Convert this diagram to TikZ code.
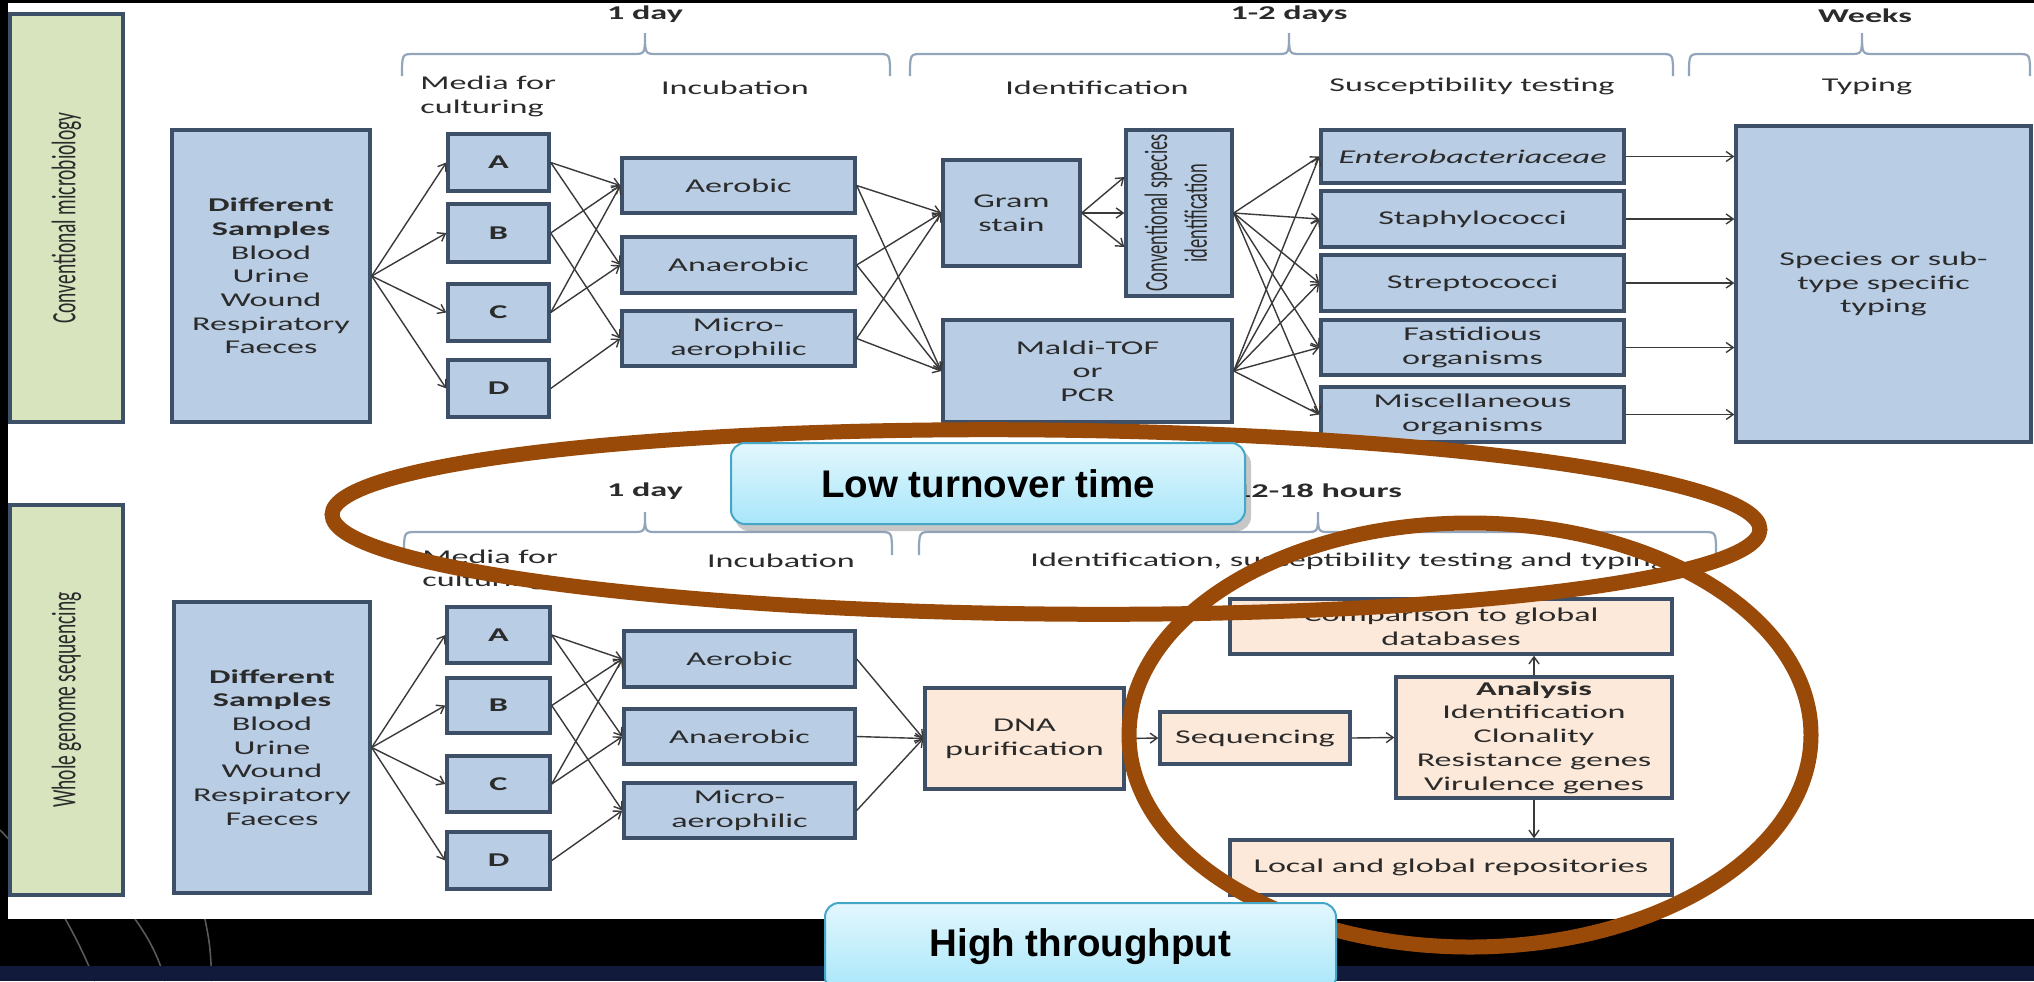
\documentclass[tikz,border=0pt]{standalone}
\usepackage{fontspec}
\usepackage{graphicx}
\usetikzlibrary{arrows.meta,calc}
\newfontfamily\df{Carlito}[FakeStretch=1.75]
\newfontfamily\vf{Carlito}
\newfontfamily\ovf{Liberation Sans}
\newcommand\fsz{\fontsize{9.75}{11.85}\selectfont}
\definecolor{bluef}{HTML}{B9CDE5}
\definecolor{peach}{HTML}{FDE9D9}
\definecolor{olivef}{HTML}{D7E4BD}
\definecolor{bord}{HTML}{3E5068}
\definecolor{arrc}{HTML}{3A3A3A}
\definecolor{bracec}{HTML}{93A5BA}
\definecolor{txt}{HTML}{2B2B2B}
\definecolor{ell}{RGB}{153,74,9}
\definecolor{navyb}{HTML}{121A3C}
\definecolor{ovtop}{HTML}{E3F7FD}
\definecolor{ovbot}{HTML}{A8E6FA}
\definecolor{ovbord}{HTML}{45A7C7}
\newcommand\mybrace[6]{\draw[brc] (#1,#5) .. controls (#1,#4) .. ({#1+12},#4) -- ({#3-12},#4) .. controls (#3,#4) .. (#3,#6) .. controls (#3,#4) .. ({#3+12},#4) -- ({#2-12},#4) .. controls (#2,#4) .. (#2,#5);}
\newcommand\vtext[1]{\rotatebox{90}{\scalebox{1}[1.75]{\vf\fsz #1}}}
\newcommand\mkbox[6]{\node[#1, minimum width={(#4-#2)*0.5pt}, minimum height={(#5-#3)*0.5pt}] (#6) at ({(#2+#4)/2},{(#3+#5)/2})}
\begin{document}
\begin{tikzpicture}[x=0.5pt,y=-0.5pt,
  box/.style={draw=bord, line width=1.7pt, fill=bluef, inner sep=0pt, align=center, text=txt, font=\df\fsz},
  pbox/.style={box, fill=peach},
  gbox/.style={box, fill=olivef},
  arr/.style={draw=arrc, line width=0.7pt, -{Straight Barb[length=3.5pt,width=5pt]}},
  lbl/.style={inner sep=0pt, text=txt, font=\df\fsz, align=center},
  blbl/.style={inner sep=0pt, text=txt, font=\df\fsz\bfseries, align=center},
  brc/.style={draw=bracec, line width=1.1pt},
  ellip/.style={draw=ell, line width=7.5pt},
  ov/.style={draw=ovbord, line width=1pt, rounded corners=7pt, top color=ovtop, bottom color=ovbot, inner sep=0pt, text=black, font=\ovf\bfseries\fontsize{19.25}{22}\selectfont}
]
\useasboundingbox (0,0) rectangle (2034,981);
% background
\fill[black] (0,0) rectangle (2034,981);
\draw[draw=black!65, line width=0.8pt] (0,830) .. controls (40,870) and (75,930) .. (95,981);
\draw[draw=black!65, line width=0.8pt] (135,919) .. controls (150,940) and (160,960) .. (165,981);
\draw[draw=black!65, line width=0.8pt] (205,919) .. controls (210,945) .. (212,981);
\fill[white] (8,3) rectangle (2034,919);
\fill[navyb] (0,966) rectangle (2034,981);

% ================= upper panel =================
\mkbox{gbox}{10}{14}{123}{422}{cm} {\vtext{Conventional microbiology}};
\mkbox{box}{172}{130}{370}{422}{s1} {\textbf{Different}\\\textbf{Samples}\\Blood\\Urine\\Wound\\Respiratory\\Faeces};
\mkbox{box}{448}{134}{549}{191}{a1} {\textbf{A}};
\mkbox{box}{448}{204}{549}{262}{b1} {\textbf{B}};
\mkbox{box}{448}{284}{549}{341}{c1} {\textbf{C}};
\mkbox{box}{448}{360}{549}{417}{d1} {\textbf{D}};
\mkbox{box}{622}{158}{855}{213}{aer1} {Aerobic};
\mkbox{box}{622}{237}{855}{293}{ana1} {Anaerobic};
\mkbox{box}{622}{311}{855}{366}{mic1} {Micro-\\aerophilic};
\mkbox{box}{943}{160}{1080}{266}{gram} {Gram\\stain};
\mkbox{box}{1126}{130}{1232}{296}{cid} {\rotatebox{90}{\scalebox{1}[1.75]{\vf\fontsize{9.25}{11.4}\selectfont\begin{tabular}{@{}c@{}}Conventional species\\identification\end{tabular}}}};
\mkbox{box}{943}{320}{1232}{422}{mal} {Maldi-TOF\\or\\PCR};
\mkbox{box}{1321}{130}{1624}{183}{ent} {\textit{Enterobacteriaceae}};
\mkbox{box}{1321}{191}{1624}{247}{sta} {Staphylococci};
\mkbox{box}{1321}{255}{1624}{311}{str} {Streptococci};
\mkbox{box}{1321}{320}{1624}{375}{fas} {Fastidious\\organisms};
\mkbox{box}{1321}{387}{1624}{442}{mis} {Miscellaneous\\organisms};
\mkbox{box}{1736}{126}{2031}{442}{typ} {Species or sub-\\type specific\\typing};

\node[lbl, anchor=west, align=left] (hmed1) at (420,96.5) {Media for\\culturing};
\node[lbl] (hinc1) at (735,88) {Incubation};
\node[lbl] (hid1) at (1097,88) {Identification};
\node[lbl] (hsus1) at (1472,86) {Susceptibility testing};
\node[lbl] (htyp1) at (1867,86) {Typing};
\node[blbl] (t1) at (645,14) {1 day};
\node[blbl] (t2) at (1289,14) {1-2 days};
\node[blbl] (t3) at (1865,16) {Weeks};
\mybrace{402}{890}{645}{54}{76}{33}
\mybrace{910}{1673}{1289}{54}{76}{33}
\mybrace{1689}{2030}{1862}{54}{76}{33}

\foreach \n in {a1,b1,c1,d1} \draw[arr] (s1.east) -- (\n.west);
\draw[arr] (a1.east) -- (aer1.west);
\draw[arr] (a1.east) -- (ana1.west);
\draw[arr] (b1.east) -- (aer1.west);
\draw[arr] (b1.east) -- (mic1.west);
\draw[arr] (c1.east) -- (aer1.west);
\draw[arr] (c1.east) -- (ana1.west);
\draw[arr] (d1.east) -- (mic1.west);
\foreach \n in {aer1,ana1,mic1} {\draw[arr] (\n.east) -- (gram.west); \draw[arr] (\n.east) -- (mal.west);}
\draw[arr] (gram.east) -- ($(cid.west)+(0,-36)$);
\draw[arr] (gram.east) -- (cid.west);
\draw[arr] (gram.east) -- ($(cid.west)+(0,34)$);
\foreach \n in {ent,sta,str,fas,mis} {\draw[arr] (cid.east) -- (\n.west); \draw[arr] (mal.east) -- (\n.west); \draw[arr] (\n.east) -- (\n.east -| typ.west);}

% ================= lower panel =================
\mkbox{gbox}{10}{505}{123}{895}{wgs} {\vtext{Whole genome sequencing}};
\mkbox{box}{174}{602}{370}{893}{s2} {\textbf{Different}\\\textbf{Samples}\\Blood\\Urine\\Wound\\Respiratory\\Faeces};
\mkbox{box}{447}{607}{550}{663}{a2} {\textbf{A}};
\mkbox{box}{447}{678}{550}{733}{b2} {\textbf{B}};
\mkbox{box}{447}{756}{550}{812}{c2} {\textbf{C}};
\mkbox{box}{447}{832}{550}{889}{d2} {\textbf{D}};
\mkbox{box}{624}{631}{855}{687}{aer2} {Aerobic};
\mkbox{box}{624}{709}{855}{764}{ana2} {Anaerobic};
\mkbox{box}{624}{783}{855}{838}{mic2} {Micro-\\aerophilic};
\mkbox{pbox}{925}{688}{1124}{789}{dna} {DNA\\purification};
\mkbox{pbox}{1160}{712}{1350}{764}{seq} {Sequencing};
\mkbox{pbox}{1396}{677}{1672}{798}{anl} {\textbf{Analysis}\\Identification\\Clonality\\Resistance genes\\Virulence genes};
\mkbox{pbox}{1230}{599}{1672}{654}{cmp} {Comparison to global\\databases};
\mkbox{pbox}{1230}{840}{1672}{895}{loc} {Local and global repositories};

\node[lbl, anchor=west, align=left] (hmed2) at (422,570) {Media for\\culturing};
\node[lbl] (hinc2) at (781,561) {Incubation};
\node[lbl, anchor=west] (hid2) at (1030,561) {Identification, susceptibility testing and typing};
\node[blbl] (t4) at (645,491) {1 day};
\node[blbl] (t5) at (1318,491) {12-18 hours};
\mybrace{404}{892}{645}{532}{555}{512}
\mybrace{919}{1716}{1318}{532}{555}{512}

\foreach \n in {a2,b2,c2,d2} \draw[arr] (s2.east) -- (\n.west);
\draw[arr] (a2.east) -- (aer2.west);
\draw[arr] (a2.east) -- (ana2.west);
\draw[arr] (b2.east) -- (aer2.west);
\draw[arr] (b2.east) -- (mic2.west);
\draw[arr] (c2.east) -- (aer2.west);
\draw[arr] (c2.east) -- (ana2.west);
\draw[arr] (d2.east) -- (mic2.west);
\foreach \n in {aer2,ana2,mic2} \draw[arr] (\n.east) -- (dna.west);
\draw[arr] (dna.east) -- (seq.west);
\draw[arr] (seq.east) -- (anl.west);
\draw[arr] (anl.north) -- (anl.north |- cmp.south);
\draw[arr] (anl.south) -- (anl.south |- loc.north);

% ================= overlays =================
\draw[ellip, rotate around={-0.6:(1046,522)}] (1046,522) ellipse [x radius=714, y radius=92];
\draw[ellip] (1470,735) ellipse [x radius=341, y radius=212];
\fill[black, opacity=0.22, rounded corners=7pt] (735,450) rectangle (1251,531);
\mkbox{ov}{731}{443}{1245}{524}{low} {Low turnover time};
\mkbox{ov}{825}{903}{1336}{991}{high} {High throughput};
\end{tikzpicture}
\end{document}
